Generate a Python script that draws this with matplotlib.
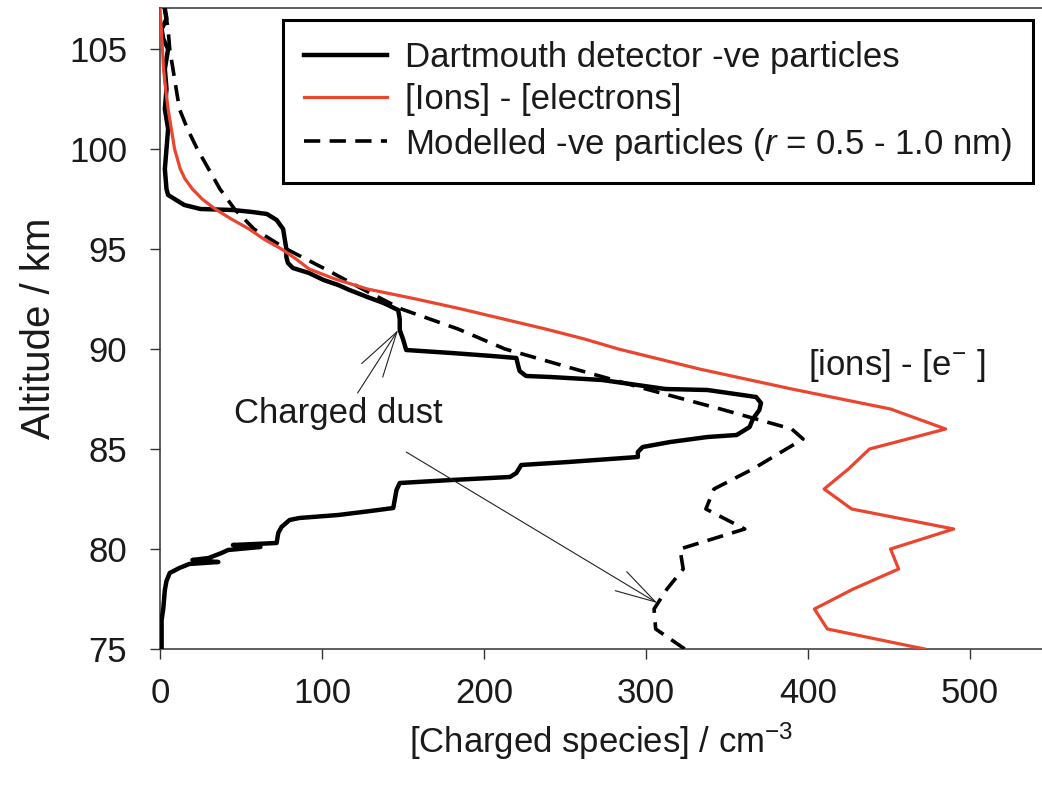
import matplotlib
matplotlib.use("Agg")
import matplotlib.pyplot as plt

plt.rcParams['font.family'] = ['Liberation Sans', 'DejaVu Sans']
plt.rcParams['mathtext.fontset'] = 'custom'
plt.rcParams['mathtext.rm'] = 'Liberation Sans'
plt.rcParams['mathtext.it'] = 'Liberation Sans:italic'
plt.rcParams['mathtext.bf'] = 'Liberation Sans:bold'

# ---------------- data ----------------
# Dartmouth detector -ve particles (altitude km, concentration cm^-3)
alt_dart = [107.0, 106.5, 106.0, 105.5, 105.0, 104.0, 103.0, 102.0, 101.0, 100.0,
            99.0, 98.0, 97.7, 97.45, 97.2, 97.0, 96.95, 96.85, 96.75, 96.45,
            96.0, 95.5, 95.0, 94.6, 94.3, 94.05, 93.8, 93.45, 93.2, 92.95,
            92.6, 92.3, 91.95, 91.5, 90.95, 90.5, 89.95, 89.8, 89.65, 89.55,
            89.2, 88.9, 88.65, 88.6, 88.45, 88.0, 87.95, 87.6, 87.3, 86.95,
            86.5, 86.1, 85.7, 85.6, 85.35, 85.1, 84.85, 84.6, 84.35, 84.2,
            83.8, 83.6, 83.45, 83.3, 82.95, 82.5, 82.05, 81.9, 81.7, 81.55,
            81.45, 81.1, 80.8, 80.3, 80.2, 80.1, 79.95, 79.8, 79.55, 79.45,
            79.35, 79.25, 79.05, 78.8, 78.4, 77.95, 77.0, 76.45, 75.0]
dart = [3, 4, 1, 2, 5, 3, 4, 3, 5, 4,
        3, 4, 5, 10, 15, 25, 45, 57, 66, 72,
        76, 77, 78, 78, 79, 82, 92, 101, 110, 117,
        128, 138, 147, 148, 148, 150, 152, 180, 205, 220,
        221, 222, 226, 241, 273, 312, 338, 368, 371, 370,
        366, 364, 356, 338, 315, 298, 295, 295, 252, 223,
        220, 216, 180, 148, 146, 145, 144, 130, 110, 86,
        80, 75, 73, 72, 45, 62, 42, 38, 30, 20,
        36, 18, 12, 6, 4, 3, 2, 1, 1]

# [Ions] - [electrons]
alt_ion = [107, 106, 105, 104, 103, 102, 101, 100, 99, 98.5, 98, 97.5, 97, 96.5,
           96, 95.5, 95, 94.5, 94, 93.5, 93, 92.5, 92, 91.5, 91, 90.5, 90,
           89, 88, 87, 86, 85, 84, 83, 82, 81, 80, 79, 78, 77, 76, 75]
ion = [0, 0.8, 1.5, 2.2, 3.5, 5, 7, 9, 12.5, 15.5, 20, 26, 34, 44,
       55, 64, 75, 84, 92, 108, 128, 158, 186, 212, 238, 262, 283,
       333, 390, 451, 485, 438, 425, 410, 427, 490, 451, 456, 428, 404, 412, 472]

# Modelled -ve particles (r = 0.5 - 1.0 nm)
alt_mod = [107, 106, 105, 104, 103, 102, 101, 100, 99, 98, 97, 96, 95, 94, 93,
           92, 91, 90, 89, 88, 87, 86, 85.5, 84, 83, 82, 81, 80, 79, 78, 77,
           76, 75]
mod = [3, 5, 6, 8, 10, 12, 17, 23, 30, 37, 46, 58, 78, 102, 125,
       149, 184, 213, 256, 300, 346, 390, 397, 366, 342, 337, 361, 321, 323, 313, 305,
       306, 324]

xticks = [0, 100, 200, 300, 400, 500]
yticks = [75, 80, 85, 90, 95, 100, 105]

# ---------------- figure ----------------
W, H = 1042, 785
fig = plt.figure(figsize=(W / 100, H / 100), dpi=100)
ax = fig.add_axes([160 / W, 1 - 649 / H, 1 - 160 / W, (649 - 8) / H])

txt = '#1a1a1a'
red = '#E9452F'

l1, = ax.plot(dart, alt_dart, color='black', lw=3.2, solid_joinstyle='round',
              zorder=3, label='Dartmouth detector -ve particles')
l3, = ax.plot(mod, alt_mod, color='black', lw=2.6, linestyle=(0, (4.5, 2.6)),
              zorder=4, label='Modelled -ve particles ($r$ = 0.5 - 1.0 nm)')
l2, = ax.plot(ion, alt_ion, color=red, lw=2.3, zorder=5,
              label='[Ions] - [electrons]')

ax.set_xlim(0, 544.5)
ax.set_ylim(75, 107.05)
ax.set_xticks(xticks)
ax.set_yticks(yticks)

for s in ['left', 'bottom', 'top']:
    ax.spines[s].set_color('#333333')
    ax.spines[s].set_linewidth(1.1)
ax.spines['right'].set_visible(False)

ax.tick_params(axis='both', direction='out', length=7.5, width=1.0,
               color='#333333', labelsize=25, labelcolor=txt)
ax.tick_params(axis='y', pad=16)
ax.tick_params(axis='x', pad=13)

ax.set_xlabel('[Charged species] / cm$^{-3}$', fontsize=25, color=txt, labelpad=7)
ax.set_ylabel('Altitude / km', fontsize=29, color=txt, labelpad=8)

# annotations
ax.text(110, 86.75, 'Charged dust', fontsize=25, color=txt, ha='center', va='center')
ax.annotate('', xy=(147, 90.95), xytext=(122, 87.8),
            arrowprops=dict(arrowstyle='->,head_length=3.3,head_width=0.9',
                            mutation_scale=10, lw=0.8, color='#222222',
                            shrinkA=0, shrinkB=0))
ax.annotate('', xy=(307, 77.3), xytext=(152, 84.85),
            arrowprops=dict(arrowstyle='->,head_length=2.9,head_width=0.8',
                            mutation_scale=10, lw=0.8, color='#222222',
                            shrinkA=0, shrinkB=0))
ax.text(455, 89.2, '[ions] - [e$^{-}$ ]', fontsize=25, color=txt,
        ha='center', va='center')

leg = ax.legend(handles=[l1, l2, l3], loc='upper left',
                bbox_to_anchor=(283 / W, 1 - 20 / H), bbox_transform=fig.transFigure,
                borderaxespad=0, fontsize=25, frameon=True, fancybox=False,
                handlelength=2.4, handletextpad=0.5, labelspacing=0.27,
                borderpad=0.6, labelcolor=txt)
leg.get_frame().set_edgecolor('black')
leg.get_frame().set_linewidth(2.2)
leg.get_frame().set_alpha(1)

fig.savefig('out.png', dpi=100)
